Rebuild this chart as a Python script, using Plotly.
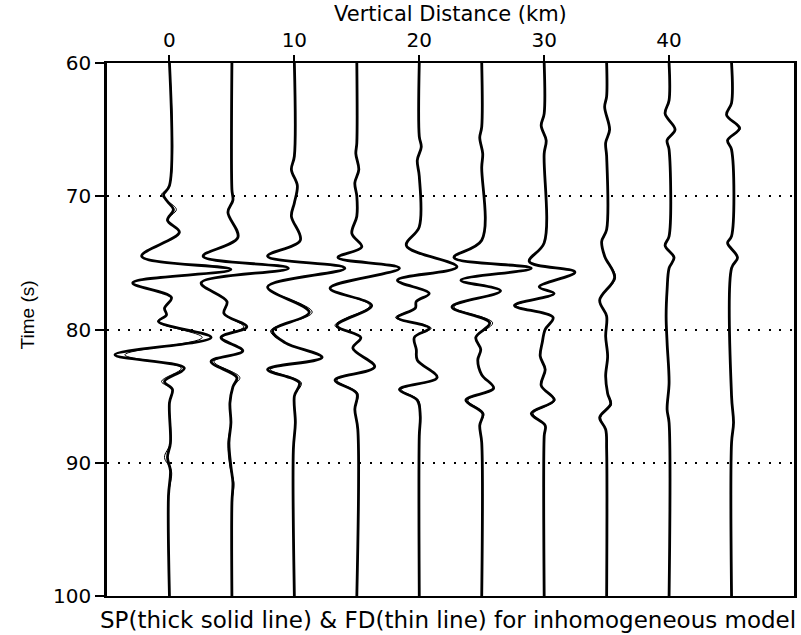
import plotly.graph_objects as go

# ---- data -------------------------------------------------------------
distances = [0, 5, 10, 15, 20, 25, 30, 35, 40, 45]          # km
x_ticks = [0, 10, 20, 30, 40]
y_ticks = [60, 70, 80, 90, 100]
gain = 1 / 12.6     # km of plot per amplitude unit

# trace at 0 km
t0   = [60, 69.2, 69.9, 70.4, 71.0, 71.8, 72.7, 74.5, 75.5, 76.5, 77.6, 78.4, 78.9, 79.4, 80.6, 81.9, 82.9, 83.9, 84.5, 85.5, 88.5, 89.6, 90.6, 92.5, 100]
sp0  = [0, 0, -6, -2, 4, -2, 10, -28, 62, -37, 2, -5, -3, -11, 42, -55, 15, -5, 3, 0, 1, -2, 1, -1, 0]
fd0  = [0, 0, -8, -1, 7, -2, 10, -28, 62, -37, 2, -5, -3, -12, 33, -45, 12, -8, 3, 0, 1, -5, 2, -1, 0]
# 5 km
t5   = [60, 69.5, 70.3, 71.2, 73.1, 74.5, 75.4, 76.5, 77.9, 78.8, 79.8, 80.6, 81.6, 82.4, 83.6, 84.3, 85.5, 87.0, 88.5, 90.3, 91.5, 93.0, 100]
sp5  = [0, 0, 1, -4, 6, -29, 57, -31, -5, -8, 15, -11, 11, -21, 5, 1, -2, -1, -3, -1, 1, 0, 0]
fd5  = [0, 0, 1, -4, 6, -29, 57, -31, -5, -8, 12, -10, 10, -18, 8, 1, -2, -1, -4, -2, 2, 0, 0]
# 10 km
t10  = [60, 67.0, 68.0, 69.2, 70.5, 71.5, 73.3, 74.5, 75.4, 76.8, 78.7, 80.1, 81.0, 82.1, 83.0, 84.0, 85.0, 87.0, 89.0, 100]
sp10 = [0, 0, -3, 3, 0, -3, 6, -27, 51, -27, 15, -22, -9, 28, -27, 5, 0, 1, -1, 0]
fd10 = [0, 0, -3, 3, 0, -3, 6, -27, 51, -27, 18, -24, -9, 27, -24, 7, 0, 1, -1, 0]
# 15 km
t15  = [60, 66.0, 66.8, 68.0, 69.0, 70.0, 71.5, 72.8, 73.8, 74.6, 75.4, 76.9, 78.2, 79.7, 80.6, 81.4, 82.8, 83.8, 84.8, 86.0, 87.5, 100]
sp15 = [0, 0, -1, 2, -2, 0, 0, -5, 5, -19, 43, -27, 15, -20, 4, -4, 18, -22, 0, -2, 1, 0]
fd15 = [0, 0, -1, 2, -2, 0, 0, -5, 5, -19, 43, -27, 13, -22, 4, -4, 18, -20, 1, -2, 1, 0]
# 20 km
t20  = [60, 65.5, 66.3, 67.3, 68.5, 72.3, 73.7, 75.3, 76.3, 77.3, 77.9, 78.4, 79.1, 79.9, 80.6, 81.5, 82.3, 83.6, 84.5, 85.3, 86.5, 88.0, 100]
sp20 = [0, 0, 2, -2, 0, 0, -13, 38, -22, 10, -3, -4, -22, 10, -5, -3, -2, 18, -20, -2, 1, 0, 0]
fd20 = [0, 0, 2, -2, 0, 0, -13, 38, -22, 10, -3, -4, -24, 12, -5, -3, -2, 18, -18, -1, 1, 0, 0]
# 25 km
t25  = [60, 64.8, 65.6, 66.8, 67.8, 73.3, 74.6, 75.4, 76.3, 77.1, 78.3, 79.5, 80.6, 81.5, 82.3, 83.4, 84.4, 85.3, 86.3, 87.2, 88.5, 100]
sp25 = [0, 0, -2, 1, 0, 0, -28, 50, -21, 19, -30, 8, -6, -1, -4, 0, 12, -16, 1, -2, 0, 0]
fd25 = [0, 0, -2, 1, 0, 0, -27, 50, -21, 19, -28, 11, -6, -1, -4, 0, 12, -14, 2, -2, 0, 0]
# 30 km
t30  = [60, 63.8, 64.7, 65.8, 66.8, 73.5, 74.9, 75.7, 76.8, 77.3, 78.2, 79.1, 80.0, 81.0, 82.0, 83.0, 84.2, 85.3, 86.3, 87.2, 88.0, 100]
sp30 = [0, 0, -3, 2, 0, 0, -15, 31, -5, 10, -30, 9, 1, -2, -4, 1, -3, 10, -13, 1, 0, 0]
fd30 = [0, 0, -3, 2, 0, 0, -15, 31, -5, 10, -28, 9, 1, -2, -4, 1, -3, 11, -11, 1, 0, 0]
# 35 km
t35  = [60, 62.5, 63.3, 65.0, 66.0, 67.0, 72.5, 73.4, 74.5, 76.1, 77.8, 79.0, 80.5, 82.0, 83.5, 84.8, 85.6, 86.6, 87.5, 89.0, 100]
sp35 = [0, 0, -2, 3, -1, 0, 0, -5, -2, 8, -7, 0, -1, 1, -1, 1, 4, -7, -1, 0, 0]
fd35 = [0, 0, -2, 3, -1, 0, 0, -5, -2, 9, -7, 0, -1, 1, -1, 1, 5, -6, -1, 0, 0]
# 40 km
t40  = [60, 62.8, 63.8, 65.0, 65.8, 66.5, 73.0, 73.7, 74.6, 75.4, 77.0, 79.0, 81.0, 84.0, 86.0, 87.0, 100]
sp40 = [0, 0, -4, 6, -2, 0, 0, -4, 5, 0, -2, -3, -2, 0, -2, 0, 0]
fd40 = [0, 0, -4, 6, -2, 0, 0, -4, 5, 0, -2, -3, -2, 0, -2, 0, 0]
# 45 km
t45  = [60, 63.0, 63.9, 64.9, 65.8, 66.5, 73.0, 73.5, 74.6, 75.4, 85.0, 87.0, 88.5, 100]
sp45 = [0, 0, -5, 8, -4, 0, 0, -4, 6, 0, 0, 2, 0, 0]
fd45 = [0, 0, -5, 9, -4, 0, 0, -4, 6, 0, 0, 2, 0, 0]

times = [t0, t5, t10, t15, t20, t25, t30, t35, t40, t45]
sp_all = [sp0, sp5, sp10, sp15, sp20, sp25, sp30, sp35, sp40, sp45]
fd_all = [fd0, fd5, fd10, fd15, fd20, fd25, fd30, fd35, fd40, fd45]

# ---- figure -----------------------------------------------------------
fig = go.Figure()
for d, t, sp in zip(distances, times, sp_all):
    fig.add_trace(go.Scatter(
        x=[d + a * gain for a in sp], y=t, mode="lines",
        line=dict(color="black", width=2.8, shape="spline", smoothing=1.0),
        hoverinfo="skip", showlegend=False))
for d, t, fd in zip(distances, times, fd_all):
    fig.add_trace(go.Scatter(
        x=[d + a * gain for a in fd], y=t, mode="lines",
        line=dict(color="black", width=1.0, shape="spline", smoothing=1.0),
        hoverinfo="skip", showlegend=False))

tick_font = dict(family="DejaVu Sans", size=20, color="black")

fig.update_layout(
    width=801, height=635,
    margin=dict(l=107, r=4, t=63, b=39),
    paper_bgcolor="white", plot_bgcolor="white",
    xaxis=dict(range=[-5, 50], side="top", tickvals=x_ticks,
               ticktext=[str(v) for v in x_ticks],
               ticks="outside", ticklen=6, tickwidth=2, tickcolor="black",
               showline=True, linewidth=2, linecolor="black", mirror=True,
               showgrid=False, zeroline=False, tickfont=tick_font),
    yaxis=dict(range=[100, 60], tickvals=y_ticks,
               ticktext=[str(v) for v in y_ticks],
               ticks="outside", ticklen=9, tickwidth=2, tickcolor="black",
               showline=True, linewidth=2.5, linecolor="black", mirror=True,
               showgrid=True, gridcolor="black", gridwidth=2,
               griddash="2px,8.5px", zeroline=False, tickfont=tick_font),
    annotations=[
        dict(text="Vertical Distance (km)", xref="paper", yref="paper",
             x=0.5, y=1.092, xanchor="center", yanchor="middle",
             showarrow=False, font=dict(family="DejaVu Sans", size=21, color="black")),
        dict(text="Time (s)", xref="paper", yref="paper", textangle=-90,
             x=-0.116, y=0.527, xanchor="center", yanchor="middle",
             showarrow=False, font=dict(family="Liberation Sans", size=19, color="black")),
        dict(text="SP(thick solid line) & FD(thin line) for inhomogeneous model",
             xref="paper", yref="paper", x=0.497, y=-0.045,
             xanchor="center", yanchor="middle", showarrow=False,
             font=dict(family="DejaVu Sans", size=23, color="black")),
    ],
)

fig.write_html("out.html")
